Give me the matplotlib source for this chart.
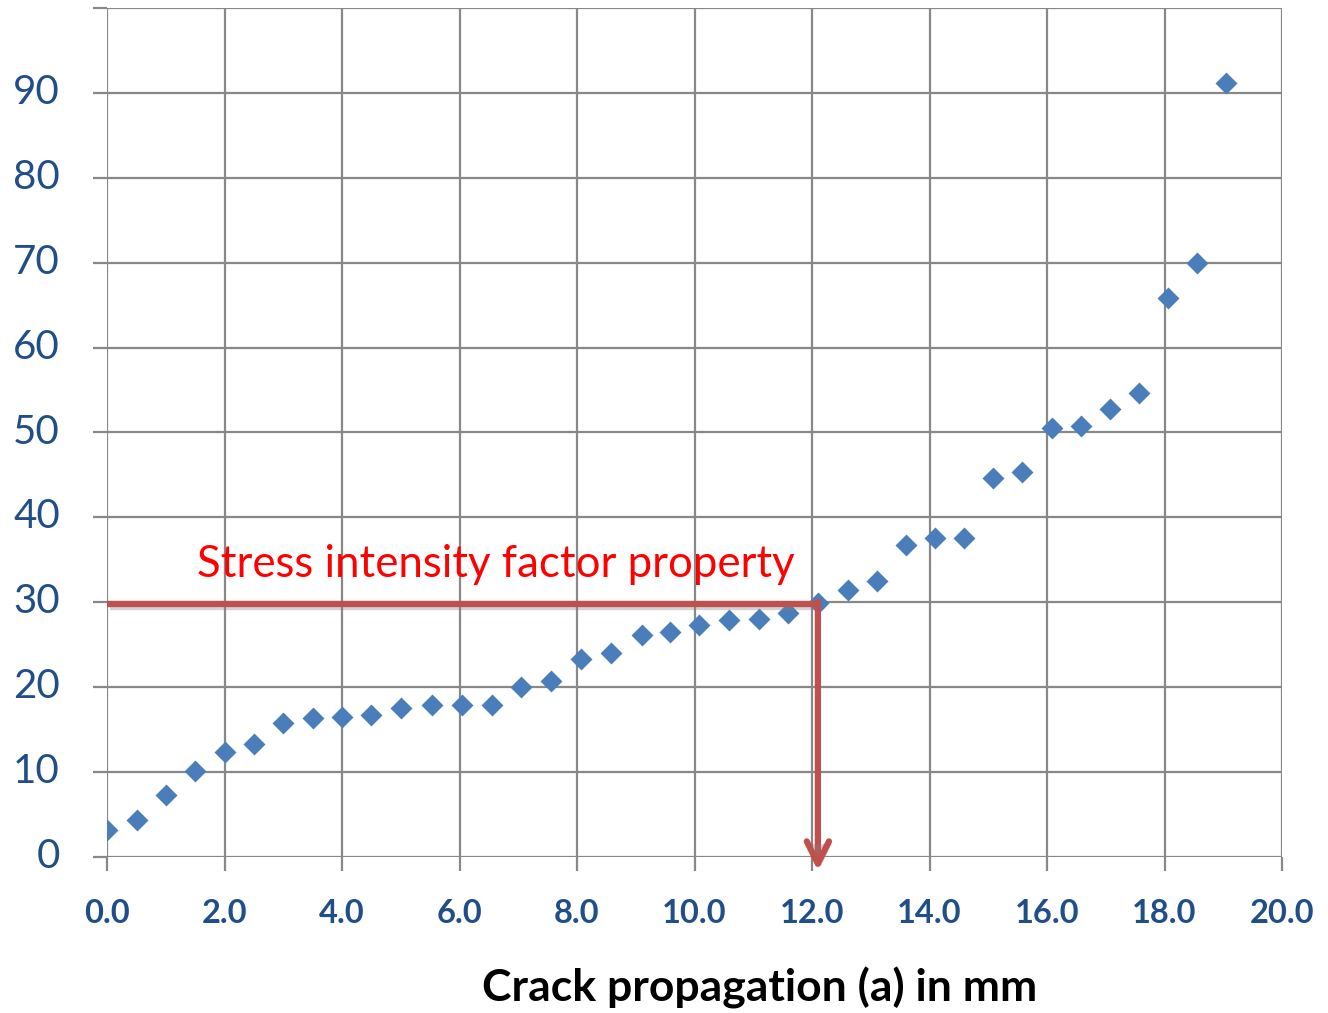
import matplotlib
matplotlib.use("Agg")
import matplotlib.pyplot as plt
import matplotlib.patheffects as pe
import matplotlib.transforms as mtrans

crack_mm = [0.0, 0.51, 1.0, 1.5, 2.0, 2.5, 3.0, 3.5, 4.0, 4.5, 5.0, 5.53, 6.04,
            6.55, 7.05, 7.56, 8.07, 8.58, 9.1, 9.58, 10.08, 10.59, 11.1, 11.59,
            12.1, 12.61, 13.1, 13.6, 14.09, 14.59, 15.08, 15.58, 16.09, 16.58,
            17.07, 17.57, 18.06, 18.56, 19.05]
sif = [3.2, 4.4, 7.3, 10.1, 12.4, 13.3, 15.8, 16.4, 16.5, 16.7, 17.5, 17.9, 17.9,
       17.9, 20.0, 20.7, 23.3, 24.0, 26.1, 26.5, 27.3, 27.9, 28.0, 28.7, 29.9,
       31.5, 32.5, 36.8, 37.6, 37.6, 44.6, 45.4, 50.5, 50.8, 52.8, 54.6, 65.8,
       70.0, 91.2]
x_ticks = [0, 2, 4, 6, 8, 10, 12, 14, 16, 18, 20]
y_ticks = [0, 10, 20, 30, 40, 50, 60, 70, 80, 90]
annot_x = 12.1
annot_y = 29.8
annot_label = "Stress intensity factor property"
x_label = "Crack propagation (a) in mm"

fig = plt.figure(figsize=(13.28, 10.13), dpi=100)
ax = fig.add_axes([107/1328, 1-857/1013, (1282-107)/1328, (857-8)/1013])

ax.scatter(crack_mm, sif, marker="D", s=125, color="#4A7EBB", zorder=3, linewidths=0)

ax.set_xlim(0, 20)
ax.set_ylim(0, 100)
ax.set_xticks(x_ticks)
ax.set_xticklabels([f"{v:.1f}" for v in x_ticks])
ax.set_yticks(y_ticks + [100])
ax.set_yticklabels([str(v) for v in y_ticks] + [""])
ax.grid(True, color="#888888", linewidth=1.6, zorder=0)
ax.set_axisbelow(True)
for s in ax.spines.values():
    s.set_visible(False)
ax.tick_params(axis="both", direction="out", length=10, width=1.6, color="#888888")
ax.tick_params(axis="y", pad=24, labelsize=29, labelcolor="#1F4E89")
ax.tick_params(axis="x", pad=20, labelsize=23.5, labelcolor="#1F4E89")
up = mtrans.ScaledTranslation(0, 4/100, fig.dpi_scale_trans)
for lab in ax.get_yticklabels():
    lab.set_fontfamily("Lato")
    lab.set_transform(lab.get_transform() + up)
for lab in ax.get_xticklabels():
    lab.set_fontfamily("Lato")
    lab.set_fontweight("bold")

fig.text(760/1328, 1-988/1013, x_label, fontsize=32, fontweight="bold", family="Lato",
         color="black", ha="center", va="center")

shadow = [pe.SimpleLineShadow(offset=(2, -2), alpha=0.35, shadow_color="gray"), pe.Normal()]
ax.plot([0, annot_x], [annot_y, annot_y], color="#C0504D", linewidth=4.5,
        solid_capstyle="butt", zorder=4, clip_on=False, path_effects=shadow)
ar = ax.annotate("", xy=(annot_x, -1.6), xytext=(annot_x, annot_y + 0.27),
                 arrowprops=dict(arrowstyle="->,head_length=1.6,head_width=0.8",
                                 color="#C0504D", lw=4.5, shrinkA=0, shrinkB=0),
                 annotation_clip=False, zorder=4)
ar.arrow_patch.set_path_effects([pe.SimplePatchShadow(offset=(2, -2), alpha=0.35, shadow_rgbFace="gray"), pe.Normal()])
ax.text(1.53, 34.4, annot_label, color="#FF0000", fontsize=31.5, family="Lato",
        ha="left", va="center", zorder=5)

fig.savefig("out.png", dpi=100)
